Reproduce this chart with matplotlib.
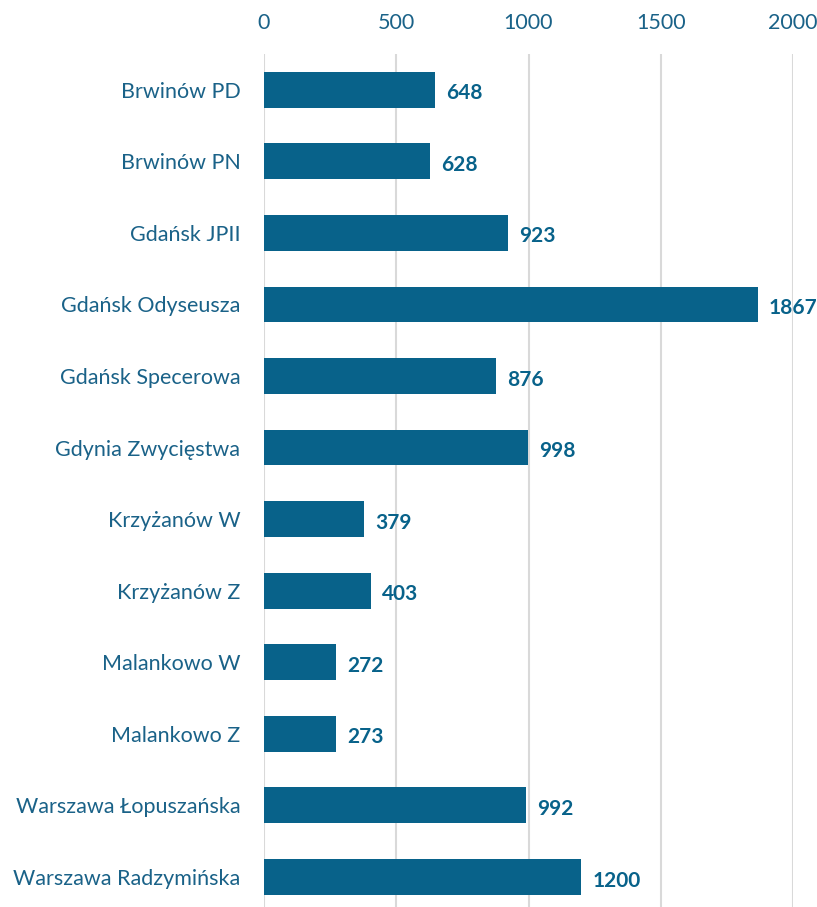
import matplotlib.pyplot as plt

stations = ['Brwinów PD', 'Brwinów PN', 'Gdańsk JPII', 'Gdańsk Odyseusza',
            'Gdańsk Specerowa', 'Gdynia Zwycięstwa', 'Krzyżanów W', 'Krzyżanów Z',
            'Malankowo W', 'Malankowo Z', 'Warszawa Łopuszańska', 'Warszawa Radzymińska']
counts = [648, 628, 923, 1867, 876, 998, 379, 403, 272, 273, 992, 1200]
xticks = [0, 500, 1000, 1500, 2000]

bar_color = '#08628A'
text_color = '#1A6288'

plt.rcParams['font.family'] = ['Lato', 'DejaVu Sans']

fig = plt.figure(figsize=(8.17, 9.07), dpi=100)
ax = fig.add_axes([264 / 817, 0.0, (793 - 264) / 817, (907 - 54) / 907])

y = list(range(len(stations)))
ax.barh(y, counts, height=0.5, color=bar_color, zorder=3)
for yi, v in zip(y, counts):
    ax.text(v + 42, yi + 0.05, str(v), va='center', ha='left',
            fontsize=15, fontweight='bold', color=bar_color)

ax.set_xlim(0, 2000)
ax.set_ylim(11.42, -0.5)
ax.set_yticks(y)
ax.set_yticklabels(stations)
ax.set_xticks(xticks)
ax.xaxis.tick_top()
ax.tick_params(axis='both', length=0, labelsize=15.5, colors=text_color)
ax.tick_params(axis='x', pad=15)
ax.tick_params(axis='y', pad=17)
ax.grid(axis='x', color='#D9D9D9', linewidth=1.5, zorder=0)
for s in ax.spines.values():
    s.set_visible(False)

fig.savefig('out.png', dpi=100)
